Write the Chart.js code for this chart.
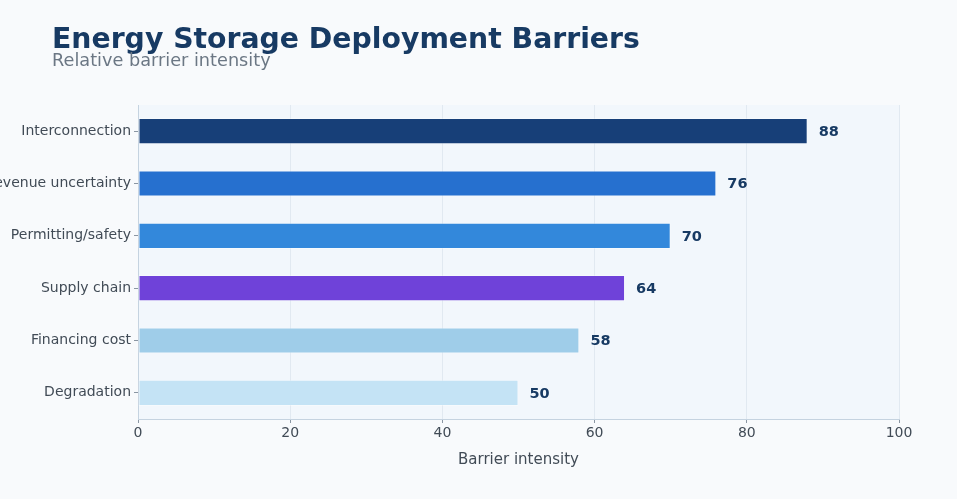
<!DOCTYPE html>
<html>
<head>
<meta charset="utf-8">
<script src="https://cdn.jsdelivr.net/npm/chart.js@4.4.1/dist/chart.umd.min.js"></script>
<style>
  html, body { margin: 0; padding: 0; background: #f8fafc; }
  #wrap { position: relative; width: 957px; height: 499px; overflow: hidden; }
  #title { position: absolute; left: 52px; top: 22px; font: bold 28.3px "DejaVu Sans", sans-serif; color: #173a63; white-space: nowrap; }
  #subtitle { position: absolute; left: 52px; top: 50px; font: 17.7px "DejaVu Sans", sans-serif; color: #6b7784; white-space: nowrap; }
  #chart-box { position: absolute; left: 0; top: 0; width: 957px; height: 499px; }
</style>
</head>
<body>
<div id="wrap">
  <div id="chart-box"><canvas id="barrierChart"></canvas></div>
  <div id="title">Energy Storage Deployment Barriers</div>
  <div id="subtitle">Relative barrier intensity</div>
</div>
<script>
// Chart data
const categories = ['Interconnection', 'Revenue uncertainty', 'Permitting/safety', 'Supply chain', 'Financing cost', 'Degradation'];
const intensity = [88, 76, 70, 64, 58, 50];
const barColors = ['#173f78', '#2670cf', '#3388db', '#6f42d9', '#9fcde9', '#c4e3f5'];
const xTicks = [0, 20, 40, 60, 80, 100];

// plot area background
const plotBackground = {
    id: 'plotBackground',
    beforeDraw(chart) {
        const { ctx, chartArea } = chart;
        ctx.save();
        ctx.fillStyle = '#f2f7fc';
        ctx.fillRect(chartArea.left, chartArea.top, chartArea.right - chartArea.left, chartArea.bottom - chartArea.top);
        ctx.restore();
    }
};

// value labels at bar ends
const valueLabels = {
    id: 'valueLabels',
    afterDatasetsDraw(chart) {
        const { ctx } = chart;
        const meta = chart.getDatasetMeta(0);
        ctx.save();
        ctx.font = 'bold 14.5px "DejaVu Sans", sans-serif';
        ctx.fillStyle = '#173a63';
        ctx.textAlign = 'left';
        ctx.textBaseline = 'middle';
        meta.data.forEach((bar, i) => {
            ctx.fillText(String(intensity[i]), bar.x + 11, bar.y + 1);
        });
        ctx.restore();
    }
};

const ctx = document.getElementById('barrierChart').getContext('2d');
new Chart(ctx, {
    type: 'bar',
    data: {
        labels: categories,
        datasets: [{
            data: intensity,
            backgroundColor: barColors,
            borderColor: 'rgba(255,255,255,0.35)',
            borderWidth: 1,
            borderSkipped: false,
            barPercentage: 0.5,
            categoryPercentage: 1.0
        }]
    },
    options: {
        indexAxis: 'y',
        responsive: true,
        maintainAspectRatio: false,
        animation: false,
        layout: { padding: { top: 105, right: 58, left: 0, bottom: 30 } },
        plugins: {
            legend: { display: false },
            tooltip: { enabled: false }
        },
        scales: {
            x: {
                min: 0,
                max: 100,
                afterBuildTicks(axis) {
                    axis.ticks = xTicks.map(v => ({ value: v }));
                },
                afterFit(axis) { axis.height = 50; },
                grid: { color: '#e1e9f1', lineWidth: 1, tickColor: '#8a96a3', tickLength: 4 },
                border: { color: '#c5d3e0', width: 1 },
                ticks: {
                    color: '#414b56',
                    font: { family: 'DejaVu Sans', size: 14 },
                    padding: 2
                },
                title: {
                    display: true,
                    text: 'Barrier intensity',
                    color: '#414b56',
                    font: { family: 'DejaVu Sans', size: 15 },
                    padding: { top: 4, bottom: 0 }
                }
            },
            y: {
                afterFit(axis) { axis.width = 138; },
                grid: { drawOnChartArea: false, offset: false, tickColor: '#8a96a3', tickLength: 4 },
                border: { color: '#c5d3e0', width: 1 },
                ticks: {
                    color: '#414b56',
                    font: { family: 'DejaVu Sans', size: 14 },
                    padding: 3
                }
            }
        }
    },
    plugins: [plotBackground, valueLabels]
});
</script>
</body>
</html>
